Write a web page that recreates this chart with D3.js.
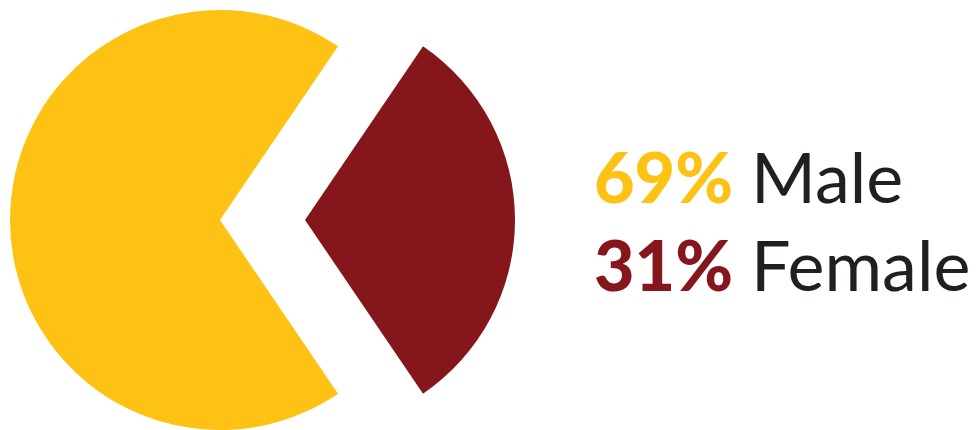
<!DOCTYPE html>
<html><head><meta charset="utf-8">
<script src="https://cdn.jsdelivr.net/npm/d3@7"></script>
<style>html,body{margin:0;padding:0;background:#fff;}svg{display:block;}</style>
</head><body>
<svg id="c" width="980" height="430"></svg>
<script>
const categories = ["Female", "Male"];
const values = [31, 69];
const labels = ["31%", "69%"];
const colors = ["#85171c", "#fdc214"];

const svg = d3.select("#c");
const radius = 210;
const cy = 220;
const centers = { Female: 305, Male: 220 };

const data = categories.map((c, i) => ({ name: c, value: values[i], color: colors[i], label: labels[i] }));
const fShare = values[0] / d3.sum(values) * 2 * Math.PI;
const pie = d3.pie().value(d => d.value).sort(null)
  .startAngle(Math.PI / 2 - fShare / 2).endAngle(Math.PI / 2 - fShare / 2 + 2 * Math.PI);
const arc = d3.arc().innerRadius(0).outerRadius(radius);

svg.selectAll("path.slice").data(pie(data)).join("path")
  .attr("class", "slice")
  .attr("transform", d => `translate(${centers[d.data.name]},${cy})`)
  .attr("d", arc)
  .attr("fill", d => d.data.color);

const legend = [data[1], data[0]];
const fs = 70;
const g = svg.selectAll("text.lg").data(legend).join("text")
  .attr("class", "lg")
  .attr("x", 594)
  .attr("y", (d, i) => 203 + i * 88)
  .style("font-family", "Lato, sans-serif")
  .style("font-size", fs + "px");
g.append("tspan").text(d => d.label).attr("fill", d => d.color).style("font-weight", 900);
g.append("tspan").text(d => " " + d.name).attr("fill", "#231f20").style("font-weight", 400);
</script>
</body></html>
